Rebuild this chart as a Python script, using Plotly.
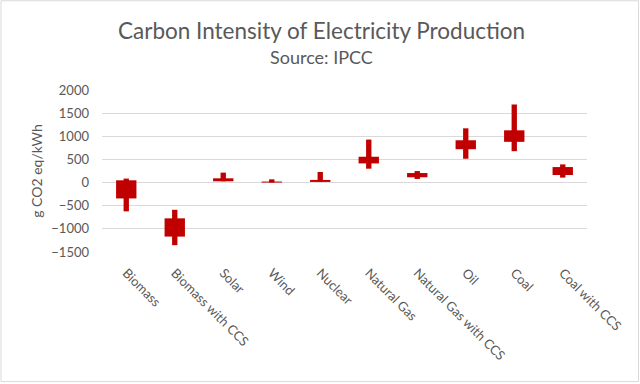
import plotly.graph_objects as go

categories = ["Biomass", "Biomass with CCS", "Solar", "Wind", "Nuclear",
              "Natural Gas", "Natural Gas with CCS", "Oil", "Coal", "Coal with CCS"]
mins = [-622, -1352, 28, 0, 14, 300, 78, 515, 678, 107]
q1 = [-343, -1167, 28, 0, 14, 414, 114, 721, 880, 163]
q3 = [49, -773, 92, 22, 57, 558, 206, 914, 1129, 335]
maxs = [86, -588, 215, 70, 228, 929, 249, 1172, 1687, 393]

y_ticks = [-1500, -1000, -500, 0, 500, 1000, 1500, 2000]

RED = "#C00000"
GRAY = "#595959"
FONT = "Lato"

fig = go.Figure()
fig.add_trace(go.Bar(
    x=categories, y=[b - a for a, b in zip(mins, maxs)], base=mins,
    width=0.11, marker=dict(color=RED, line=dict(width=0)), showlegend=False,
    hoverinfo="skip"))
fig.add_trace(go.Bar(
    x=categories, y=[b - a for a, b in zip(q1, q3)], base=q1,
    width=0.42, marker=dict(color=RED, line=dict(width=0)), showlegend=False,
    hoverinfo="skip"))

L, R, T, B = 102, 53, 90, 131.5
W = 640 - L - R
H = 384 - T - B

def px(x):
    return (x - L) / W

def py(y):
    return (384 - B - y) / H

fig.add_shape(type="rect", xref="paper", yref="paper",
              x0=px(1), x1=px(638.5), y0=py(382.5), y1=py(0.5),
              line=dict(color="#D9D9D9", width=1), layer="above")

fig.add_annotation(text="Carbon Intensity of Electricity Production",
                   xref="paper", yref="paper", x=px(321), y=py(30),
                   showarrow=False, font=dict(family=FONT, size=22.5, color=GRAY),
                   xanchor="center", yanchor="middle")
fig.add_annotation(text="Source: IPCC",
                   xref="paper", yref="paper", x=px(321), y=py(57),
                   showarrow=False, font=dict(family=FONT, size=18, color=GRAY),
                   xanchor="center", yanchor="middle")

fig.update_layout(
    width=640, height=384,
    margin=dict(l=L, r=R, t=T, b=B),
    paper_bgcolor="white", plot_bgcolor="white",
    barmode="overlay",
    font=dict(family=FONT, color=GRAY, size=13),
    xaxis=dict(type="category", tickangle=45, showgrid=False, showline=False,
               ticks="", ticklabelstandoff=10, automargin=False,
               tickfont=dict(size=13, color=GRAY), fixedrange=True),
    yaxis=dict(range=[-1500, 2000], tickvals=y_ticks, showgrid=True,
               gridcolor="#D9D9D9", gridwidth=1, zeroline=False, showline=False,
               ticks="", ticklabelstandoff=12, automargin=False,
               tickfont=dict(size=13, color=GRAY), fixedrange=True,
               title=dict(text="g CO2 eq/kWh", font=dict(size=14, color=GRAY),
                          standoff=5)),
)

fig.write_html("out.html", config={"displayModeBar": False, "staticPlot": True},
               post_script="document.body.style.margin='0';document.body.style.overflow='hidden';")
